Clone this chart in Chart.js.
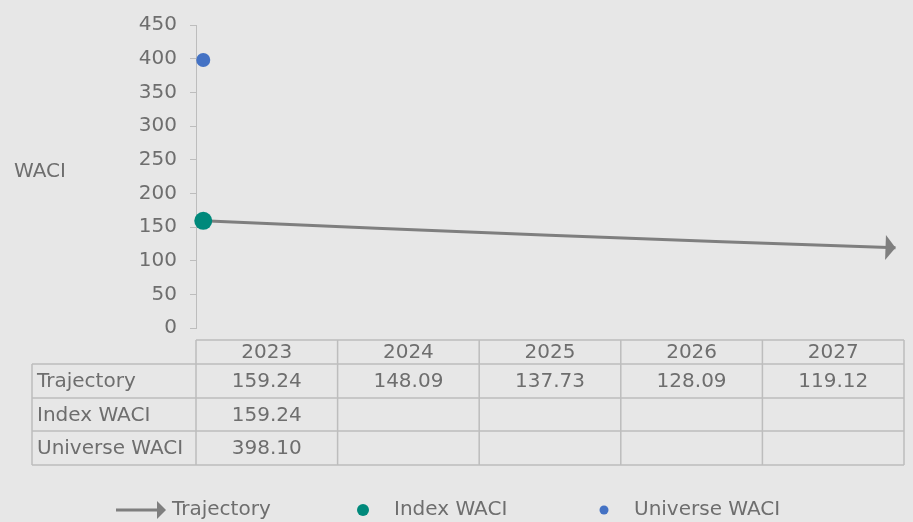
<!DOCTYPE html>
<html><head><meta charset="utf-8">
<script src="https://cdn.jsdelivr.net/npm/chart.js@4/dist/chart.umd.min.js"></script>
<style>html,body{margin:0;padding:0;background:#e7e7e7;}</style>
</head><body>
<canvas id="c" width="913" height="522"></canvas>
<script>
const years = [2023, 2024, 2025, 2026, 2027];
const trajectory = [159.24, 148.09, 137.73, 128.09, 119.12];
const indexWaci = [159.24, null, null, null, null];
const universeWaci = [398.10, null, null, null, null];
const seriesNames = ['Trajectory', 'Index WACI', 'Universe WACI'];
const axisTitle = 'WACI';

const FONT = '"DejaVu Sans", Verdana, sans-serif';
const FS = 20;
const TXT = '#6e6e6e';
const GRID = '#bdbdbd';
const LINE = '#7f7f7f';
const TEAL = '#00897b';
const BLUE = '#4472c4';

function pts(arr) { return years.map((y, i) => arr[i] == null ? null : {x: y, y: arr[i]}).filter(p => p); }

const decor = {
  id: 'decor',
  beforeDraw(chart) {
    const ctx = chart.ctx;
    ctx.save();
    ctx.fillStyle = '#e7e7e7';
    ctx.fillRect(0, 0, chart.width, chart.height);
    ctx.restore();
  },
  afterDatasetsDraw(chart) {
    const ctx = chart.ctx;
    const m = chart.getDatasetMeta(0).data;
    const a = m[m.length - 2], b = m[m.length - 1];
    const ang = Math.atan2(b.y - a.y, b.x - a.x);
    ctx.save();
    ctx.translate(b.x, b.y);
    ctx.rotate(ang);
    ctx.fillStyle = LINE;
    ctx.beginPath();
    ctx.moveTo(0, 0);
    ctx.lineTo(-10, -12.5);
    ctx.lineTo(-10, 12.5);
    ctx.closePath();
    ctx.fill();
    ctx.restore();
  },
  afterDraw(chart) {
    const ctx = chart.ctx;
    const ca = chart.chartArea;
    ctx.save();
    ctx.font = FS + 'px ' + FONT;
    ctx.fillStyle = TXT;
    // axis title
    ctx.textAlign = 'left';
    ctx.textBaseline = 'middle';
    ctx.fillText(axisTitle, 14, 172);

    // data table
    const left = 32, x0 = ca.left, x1 = ca.right;
    const w = (x1 - x0) / years.length;
    const rows = [340, 364, 398, 431, 465];
    ctx.strokeStyle = GRID;
    ctx.lineWidth = 1.5;
    ctx.beginPath();
    ctx.moveTo(x0, rows[0]); ctx.lineTo(x1, rows[0]);
    for (let r = 1; r < rows.length; r++) { ctx.moveTo(left, rows[r]); ctx.lineTo(x1, rows[r]); }
    ctx.moveTo(left, rows[1]); ctx.lineTo(left, rows[4]);
    for (let i = 0; i <= years.length; i++) { const x = x0 + i * w; ctx.moveTo(x, rows[0]); ctx.lineTo(x, rows[4]); }
    ctx.stroke();

    ctx.textAlign = 'center';
    years.forEach((y, i) => ctx.fillText(String(y), x0 + (i + 0.5) * w, (rows[0] + rows[1]) / 2 + 1));
    const series = [trajectory, indexWaci, universeWaci];
    series.forEach((arr, r) => {
      const cy = (rows[r + 1] + rows[r + 2]) / 2 + 1;
      ctx.textAlign = 'left';
      ctx.fillText(seriesNames[r], 37, cy);
      ctx.textAlign = 'center';
      arr.forEach((v, i) => { if (v != null) ctx.fillText(v.toFixed(2), x0 + (i + 0.5) * w, cy); });
    });

    // legend
    const ly = 510;
    ctx.strokeStyle = LINE; ctx.lineWidth = 3;
    ctx.beginPath(); ctx.moveTo(116, ly); ctx.lineTo(158, ly); ctx.stroke();
    ctx.fillStyle = LINE;
    ctx.beginPath(); ctx.moveTo(166, ly); ctx.lineTo(157, ly - 9); ctx.lineTo(157, ly + 9); ctx.closePath(); ctx.fill();
    ctx.fillStyle = TEAL; ctx.beginPath(); ctx.arc(363, ly, 6, 0, Math.PI * 2); ctx.fill();
    ctx.fillStyle = BLUE; ctx.beginPath(); ctx.arc(604, ly, 4.5, 0, Math.PI * 2); ctx.fill();
    ctx.fillStyle = TXT; ctx.textAlign = 'left';
    ctx.fillText(seriesNames[0], 172, ly);
    ctx.fillText(seriesNames[1], 394, ly);
    ctx.fillText(seriesNames[2], 634, ly);
    ctx.restore();
  }
};

new Chart(document.getElementById('c'), {
  type: 'line',
  data: {
    datasets: [
      { label: seriesNames[0], data: pts(trajectory), borderColor: LINE, borderWidth: 3, pointRadius: 0, order: 2, clip: false },
      { label: seriesNames[1], data: pts(indexWaci), showLine: false, pointRadius: 9, pointBackgroundColor: TEAL, pointBorderWidth: 0, borderColor: TEAL, order: 1, clip: false },
      { label: seriesNames[2], data: pts(universeWaci), showLine: false, pointRadius: 7, pointBackgroundColor: BLUE, pointBorderWidth: 0, borderColor: BLUE, order: 1, clip: false }
    ]
  },
  options: {
    responsive: false,
    animation: false,
    devicePixelRatio: 1,
    layout: { padding: { left: 0, right: 7, top: 22, bottom: 194 } },
    plugins: { legend: { display: false }, tooltip: { enabled: false } },
    scales: {
      x: { type: 'linear', display: false, min: 2022.958, max: 2027.049 },
      y: {
        min: 0, max: 450,
        afterFit(s) { s.width = 196; },
        ticks: { stepSize: 50, color: TXT, font: { family: FONT, size: FS }, padding: 13 },
        grid: { drawOnChartArea: false, drawTicks: true, tickLength: 6, color: GRID, lineWidth: 1 },
        border: { color: GRID, width: 1 }
      }
    }
  },
  plugins: [decor]
});
</script>
</body></html>
